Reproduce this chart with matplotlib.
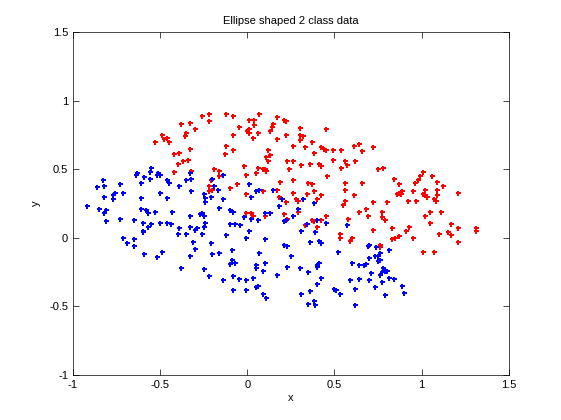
import matplotlib
matplotlib.use("Agg")
import matplotlib.pyplot as plt

# class 1 (red)
red_x = [
    -0.22, -0.26, -0.22, -0.33, -0.38, -0.30, -0.35, -0.36, -0.49, -0.46,
    -0.48, -0.45, -0.53, -0.33, -0.42, -0.39, -0.34, -0.37, -0.40, -0.32,
    -0.42, -0.19, -0.21, -0.22, -0.22, -0.20,
    -0.12, -0.08, 0.07, 0.01, 0.04, 0.17, 0.21, 0.22, 0.15, -0.05,
    0.01, 0.00, 0.04, 0.01, 0.06, 0.03, 0.14, 0.13, 0.30, 0.45,
    0.22, 0.17, 0.30, 0.32, 0.30, -0.08, 0.26, 0.33, 0.37, -0.12,
    -0.08, -0.13, 0.12, 0.38, 0.42, 0.44, 0.45, 0.49, 0.54, 0.13,
    0.11, 0.12, 0.23, 0.26, 0.31, 0.36, 0.41, 0.42, 0.49, 0.56,
    0.57, 0.54, -0.02, 0.06, 0.09, 0.11, 0.10, 0.24, 0.05, -0.01,
    -0.16, -0.16, 0.46, -0.06, -0.10, 0.19, 0.26, 0.35, 0.37, 0.17,
    0.26, 0.34, 0.38, 0.42, 0.56, 0.56, -0.01, 0.18, 0.09, 0.22,
    0.28, 0.29, 0.40, 0.56, 0.55,
    -0.01, 0.02, 0.03, 0.10, 0.21, 0.23, 0.29, 0.33, 0.37, 0.38,
    0.40, 0.42, 0.45, 0.58, 0.53, 0.53,
    0.61, 0.64, 0.66, 0.72, 0.62, 0.75, 0.78, 0.84, 0.66, 0.87,
    1.01, 0.99, 0.98, 0.96, 1.06, 1.09, 1.12, 1.09, 1.02, 1.01,
    1.02, 1.03, 0.95, 0.86, 0.89, 0.88, 0.87, 1.09, 1.07, 1.08,
    0.97, 0.92, 0.80, 0.72, 1.21, 0.61,
    0.64, 0.68, 0.77, 0.69, 0.77, 0.79, 0.72, 0.83, 0.93, 0.91,
    0.87, 0.85, 0.83, 0.95, 0.60, 0.59, 1.02, 1.05, 1.11, 1.05,
    1.17, 1.21, 1.10, 1.15, 1.17, 1.21, 1.31, 1.31, 1.01, 1.07,
    0.76, 0.76,
]
red_y = [
    0.90, 0.89, 0.85, 0.84, 0.83, 0.79, 0.76, 0.74, 0.75, 0.73,
    0.72, 0.70, 0.70, 0.65, 0.61, 0.62, 0.57, 0.56, 0.54, 0.49,
    0.48, 0.50, 0.42, 0.38, 0.34, 0.35,
    0.90, 0.89, 0.90, 0.86, 0.86, 0.88, 0.86, 0.85, 0.83, 0.81,
    0.79, 0.78, 0.82, 0.76, 0.76, 0.73, 0.81, 0.78, 0.80, 0.79,
    0.75, 0.72, 0.75, 0.74, 0.71, 0.75, 0.67, 0.66, 0.70, 0.67,
    0.64, 0.61, 0.64, 0.62, 0.66, 0.65, 0.64, 0.64, 0.64, 0.60,
    0.59, 0.56, 0.56, 0.56, 0.53, 0.54, 0.54, 0.52, 0.57, 0.56,
    0.53, 0.51, 0.52, 0.51, 0.50, 0.49, 0.50, 0.50, 0.47, 0.46,
    0.49, 0.45, 0.45, 0.39, 0.36, 0.41, 0.42, 0.40, 0.39, 0.35,
    0.33, 0.32, 0.34, 0.31, 0.40, 0.35, 0.32, 0.30, 0.34, 0.26,
    0.28, 0.27, 0.28, 0.27, 0.24,
    0.18, 0.18, 0.16, 0.16, 0.17, 0.14, 0.19, 0.09, 0.13, 0.12,
    0.08, 0.13, 0.16, 0.14, 0.03, 0.00,
    0.67, 0.68, 0.63, 0.66, 0.56, 0.50, 0.51, 0.43, 0.40, 0.39,
    0.48, 0.45, 0.42, 0.40, 0.45, 0.41, 0.38, 0.35, 0.35, 0.32,
    0.31, 0.30, 0.34, 0.32, 0.34, 0.32, 0.33, 0.31, 0.28, 0.27,
    0.27, 0.27, 0.26, 0.26, 0.33, 0.31,
    0.19, 0.21, 0.19, 0.16, 0.15, 0.13, 0.06, 0.07, 0.08, 0.05,
    0.01, 0.00, -0.01, 0.00, 0.00, -0.02, 0.16, 0.19, 0.19, 0.11,
    0.10, 0.07, 0.03, 0.04, 0.02, -0.03, 0.07, 0.05, -0.10, -0.10,
    -0.05, -0.07,
]

# class 2 (blue)
blue_x = [
    -0.55, -0.56, -0.63, -0.64, -0.59, -0.56, -0.52, -0.51, -0.50, -0.46,
    -0.45, -0.61, -0.73, -0.83, -0.82, -0.86, -0.39, -0.35, -0.32, -0.33,
    -0.32, -0.50, -0.46, -0.61, -0.71, -0.76, -0.77, -0.77, -0.82, -0.25,
    -0.24, -0.24, -0.21, -0.20,
    -0.92, -0.85, -0.81, -0.82, -0.81, -0.73, -0.65, -0.61, -0.58, -0.57,
    -0.53, -0.43, -0.33, -0.27, -0.26, -0.25, -0.60, -0.55, -0.50, -0.46,
    -0.44, -0.57, -0.60, -0.60, -0.39, -0.40, -0.33, -0.30, -0.29, -0.25,
    -0.24, -0.35, -0.26, -0.31, -0.21, -0.71, -0.65, -0.69, -0.65, -0.30,
    -0.33, -0.20, -0.59, -0.52, -0.49, -0.38, -0.25, -0.22,
    -0.14, -0.19, -0.17, 0.01, 0.05, 0.07, 0.02, 0.15, 0.20, -0.14,
    0.32, 0.38,
    -0.16, -0.10, -0.08, -0.02, 0.02, 0.06, 0.10, 0.13, 0.18, 0.29,
    0.26, 0.22, 0.21, -0.10, -0.07, -0.04, 0.01, -0.12, -0.01, 0.10,
    0.31, 0.34, 0.40, 0.45, 0.39, 0.57, 0.36, 0.41, 0.42, 0.21,
    0.23, -0.09, -0.16, 0.07, 0.25, -0.09, -0.10, -0.07, 0.10, 0.05,
    0.05, 0.23, 0.30, 0.40, 0.40, 0.41, 0.52, 0.09, 0.17, 0.35,
    -0.08, -0.05, -0.01, 0.03, -0.14, 0.42, 0.06, 0.05, 0.40, -0.08,
    -0.01, 0.09, 0.11, 0.31, 0.36, 0.50, 0.51, 0.53, 0.35, 0.38,
    0.39,
    0.69, 0.70, 0.74, 0.81, 0.76, 0.75, 0.73, 0.70, 0.75, 0.76,
    0.60, 0.64, 0.67, 0.68, 0.78, 0.79, 0.80, 0.77, 0.76, 0.71,
    0.81, 0.84, 0.70, 0.64, 0.59, 0.77, 0.73, 0.89, 0.90, 0.79,
    0.62, 0.62,
]
blue_y = [
    0.51, 0.48, 0.47, 0.46, 0.44, 0.43, 0.46, 0.47, 0.46, 0.42,
    0.40, 0.40, 0.39, 0.42, 0.38, 0.37, 0.38, 0.42, 0.43, 0.47,
    0.34, 0.33, 0.29, 0.29, 0.33, 0.33, 0.31, 0.28, 0.30, 0.32,
    0.29, 0.26, 0.30, 0.43,
    0.23, 0.21, 0.20, 0.18, 0.12, 0.14, 0.13, 0.21, 0.20, 0.18,
    0.19, 0.19, 0.16, 0.17, 0.18, 0.16, 0.11, 0.10, 0.11, 0.11,
    0.10, 0.08, 0.05, 0.04, 0.07, 0.03, 0.08, 0.06, 0.07, 0.08,
    0.11, 0.03, 0.03, -0.03, -0.04, 0.00, -0.01, -0.04, -0.06, -0.08,
    -0.13, -0.12, -0.12, -0.14, -0.10, -0.22, -0.23, -0.28,
    0.46, 0.38, 0.35, 0.39, 0.34, 0.35, 0.30, 0.35, 0.28, 0.28,
    0.28, 0.25,
    0.22, 0.20, 0.19, 0.15, 0.14, 0.13, 0.18, 0.18, 0.23, 0.21,
    0.16, 0.13, 0.12, 0.10, 0.10, 0.09, 0.05, 0.02, 0.00, -0.01,
    0.05, 0.10, 0.13, 0.11, 0.04, 0.09, -0.03, -0.02, -0.04, -0.05,
    -0.06, -0.09, -0.11, -0.11, -0.13, -0.16, -0.19, -0.18, -0.18, -0.20,
    -0.22, -0.21, -0.22, -0.20, -0.21, -0.18, -0.10, -0.24, -0.27, -0.25,
    -0.28, -0.30, -0.31, -0.29, -0.31, -0.29, -0.35, -0.36, -0.34, -0.38,
    -0.38, -0.41, -0.44, -0.41, -0.39, -0.37, -0.38, -0.41, -0.48, -0.46,
    -0.49,
    -0.06, -0.05, -0.07, -0.09, -0.11, -0.13, -0.13, -0.15, -0.17, -0.16,
    -0.18, -0.20, -0.20, -0.19, -0.22, -0.24, -0.24, -0.25, -0.27, -0.26,
    -0.29, -0.30, -0.31, -0.30, -0.31, -0.32, -0.36, -0.35, -0.40, -0.42,
    -0.37, -0.49,
]

tick_vals = [-1, -0.5, 0, 0.5, 1, 1.5]
tick_labels = ["-1", "-0.5", "0", "0.5", "1", "1.5"]

plt.rcParams["font.family"] = ["Liberation Sans", "DejaVu Sans"]
plt.rcParams["font.size"] = 8

fig = plt.figure(figsize=(5.61, 4.2), dpi=100)
ax = fig.add_axes([0.13, 0.107, 0.777, 0.817])

ax.plot(red_x, red_y, "P", color="#ff0000", markersize=3.6, markeredgewidth=0, linestyle="none")
ax.plot(blue_x, blue_y, "P", color="#0000ff", markersize=3.6, markeredgewidth=0, linestyle="none")

ax.set_xlim(-1, 1.5)
ax.set_ylim(-1, 1.5)
ax.set_xticks(tick_vals)
ax.set_xticklabels(tick_labels)
ax.set_yticks(tick_vals)
ax.set_yticklabels(tick_labels)
ax.tick_params(direction="in", top=True, right=True, length=4, width=0.5, labelsize=8)
for s in ax.spines.values():
    s.set_linewidth(0.5)

ax.set_xlabel("x", fontsize=8, labelpad=2)
ax.set_ylabel("y", fontsize=8, labelpad=6)
ax.set_title("Ellipse shaped 2 class data", fontsize=8, pad=6)

fig.savefig("out.png", dpi=100)
